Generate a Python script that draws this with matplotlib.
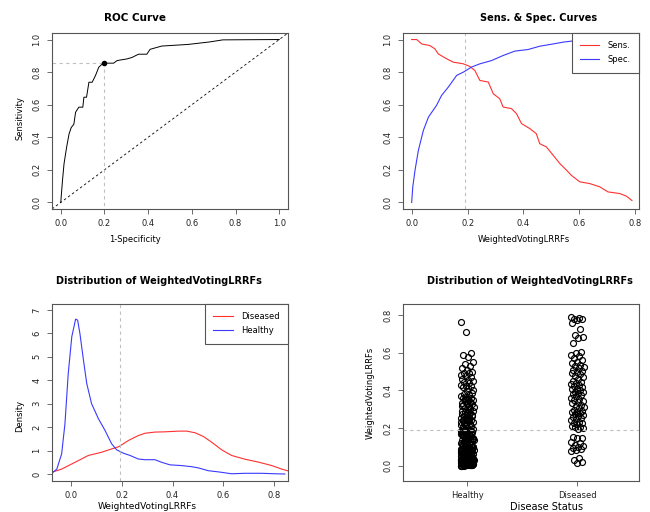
import numpy as np
import matplotlib.pyplot as plt

# ROC curve (1-specificity, sensitivity)
roc_fpr = [0.0, 0.008, 0.015, 0.027, 0.038, 0.048, 0.060, 0.068, 0.083, 0.101, 0.106,
           0.118, 0.129, 0.144, 0.159, 0.174, 0.190, 0.201, 0.242, 0.258, 0.303, 0.326,
           0.356, 0.394, 0.409, 0.462, 0.583, 0.680, 0.742, 1.0]
roc_tpr = [0.0, 0.135, 0.237, 0.340, 0.420, 0.460, 0.480, 0.554, 0.585, 0.585, 0.646,
           0.646, 0.738, 0.738, 0.779, 0.830, 0.850, 0.855, 0.855, 0.871, 0.881, 0.890,
           0.910, 0.910, 0.940, 0.960, 0.970, 0.985, 0.998, 1.0]
best_fpr = 0.2
best_tpr = 0.855
cutoff = 0.192

# sensitivity / specificity by threshold
sens_x = [0.0, 0.018, 0.036, 0.065, 0.083, 0.095, 0.125, 0.149, 0.185, 0.208, 0.226,
          0.244, 0.274, 0.292, 0.315, 0.327, 0.357, 0.375, 0.393, 0.423, 0.446, 0.458,
          0.482, 0.506, 0.530, 0.554, 0.571, 0.601, 0.637, 0.673, 0.702, 0.744, 0.768, 0.788]
sens_y = [1.0, 1.0, 0.973, 0.963, 0.943, 0.912, 0.882, 0.861, 0.851, 0.835, 0.810,
          0.749, 0.739, 0.667, 0.637, 0.586, 0.576, 0.545, 0.484, 0.453, 0.422, 0.361,
          0.341, 0.290, 0.239, 0.198, 0.167, 0.127, 0.116, 0.096, 0.065, 0.055, 0.039, 0.012]
spec_x = [0.0, 0.004, 0.012, 0.024, 0.042, 0.060, 0.089, 0.107, 0.131, 0.161, 0.185,
          0.214, 0.244, 0.286, 0.327, 0.369, 0.417, 0.458, 0.506, 0.542, 0.589, 0.650, 0.788]
spec_y = [0.0, 0.096, 0.198, 0.320, 0.443, 0.524, 0.596, 0.657, 0.708, 0.780, 0.800,
          0.831, 0.851, 0.871, 0.902, 0.929, 0.939, 0.959, 0.973, 0.984, 0.994, 0.998, 1.0]

# density curves
dens_h_x = [-0.076, -0.056, -0.037, -0.024, -0.011, 0.003, 0.018, 0.026, 0.035, 0.049,
            0.062, 0.081, 0.108, 0.134, 0.160, 0.180, 0.206, 0.233, 0.265, 0.292, 0.331,
            0.357, 0.390, 0.436, 0.476, 0.502, 0.541, 0.581, 0.633, 0.686, 0.751, 0.804, 0.843]
dens_h_y = [0.03, 0.21, 0.86, 2.14, 4.29, 5.86, 6.61, 6.57, 6.00, 4.86,
            3.86, 3.00, 2.36, 1.86, 1.29, 1.03, 0.89, 0.79, 0.64, 0.61, 0.61,
            0.50, 0.39, 0.36, 0.31, 0.26, 0.14, 0.09, 0.01, 0.03, 0.03, 0.01, 0.0]
dens_d_x = [-0.076, -0.037, 0.016, 0.068, 0.121, 0.160, 0.189, 0.226, 0.265, 0.292,
            0.331, 0.370, 0.423, 0.456, 0.489, 0.522, 0.554, 0.594, 0.633, 0.686,
            0.738, 0.791, 0.830, 0.863]
dens_d_y = [0.07, 0.21, 0.50, 0.79, 0.93, 1.07, 1.17, 1.43, 1.64, 1.74,
            1.79, 1.80, 1.83, 1.83, 1.76, 1.60, 1.36, 1.03, 0.79, 0.63,
            0.51, 0.36, 0.21, 0.11]

# individual scores
healthy = [0.002, 0.004, 0.001, 0.006, 0.003, 0.009, 0.012, 0.005, 0.008, 0.015,
           0.011, 0.007, 0.018, 0.014, 0.021, 0.010, 0.017, 0.024, 0.013, 0.020,
           0.027, 0.016, 0.023, 0.030, 0.019, 0.026, 0.033, 0.022, 0.029, 0.036,
           0.025, 0.032, 0.039, 0.028, 0.035, 0.042, 0.031, 0.038, 0.045, 0.034,
           0.041, 0.048, 0.037, 0.044, 0.003, 0.006, 0.009, 0.002, 0.013, 0.016,
           0.019, 0.022, 0.025, 0.028, 0.031, 0.034, 0.040, 0.046, 0.049, 0.043,
           0.001, 0.005, 0.008, 0.011, 0.014, 0.017, 0.020, 0.024, 0.027, 0.030,
           0.004, 0.007, 0.010, 0.013, 0.018, 0.021, 0.026, 0.033, 0.038, 0.047,
           0.052, 0.055, 0.058, 0.061, 0.063, 0.066, 0.069, 0.071, 0.074, 0.077,
           0.079, 0.082, 0.085, 0.087, 0.090, 0.093, 0.095, 0.098, 0.057, 0.067,
           0.073, 0.081, 0.088, 0.096, 0.062, 0.053, 0.059, 0.064, 0.070, 0.076,
           0.083, 0.089, 0.094, 0.099, 0.056, 0.068, 0.078, 0.091,
           0.102, 0.106, 0.109, 0.113, 0.117, 0.121, 0.124, 0.128, 0.131, 0.135,
           0.139, 0.142, 0.146, 0.149, 0.153, 0.157, 0.160, 0.164, 0.168, 0.171,
           0.175, 0.179, 0.182, 0.186, 0.111, 0.126, 0.137, 0.151, 0.166, 0.181,
           0.104, 0.115, 0.122, 0.133, 0.144, 0.155, 0.162, 0.173, 0.177, 0.184,
           0.189, 0.119, 0.141, 0.158, 0.170, 0.188,
           0.192, 0.196, 0.201, 0.205, 0.209, 0.214, 0.218, 0.222, 0.227, 0.231,
           0.236, 0.241, 0.245, 0.249, 0.254, 0.259, 0.263, 0.268, 0.272, 0.277,
           0.283, 0.288, 0.293, 0.298, 0.198, 0.211, 0.224, 0.233, 0.243, 0.251,
           0.266, 0.279, 0.291,
           0.302, 0.307, 0.312, 0.316, 0.321, 0.326, 0.331, 0.335, 0.339, 0.344,
           0.348, 0.353, 0.358, 0.362, 0.367, 0.371, 0.377, 0.383, 0.389, 0.396,
           0.318, 0.341, 0.356,
           0.403, 0.411, 0.418, 0.424, 0.426, 0.431, 0.437, 0.444, 0.452, 0.456,
           0.463, 0.470, 0.477, 0.484, 0.491, 0.495, 0.500, 0.509, 0.518, 0.527,
           0.540, 0.553, 0.576, 0.590, 0.600, 0.710, 0.763]
diseased = [0.788, 0.785, 0.781, 0.778, 0.774, 0.756, 0.724, 0.694, 0.682, 0.677, 0.650,
            0.606, 0.598, 0.588, 0.580, 0.571, 0.562, 0.553, 0.544, 0.535, 0.531, 0.522,
            0.518, 0.509, 0.504, 0.500, 0.491, 0.486, 0.477, 0.470, 0.459, 0.452, 0.447,
            0.442, 0.436, 0.429, 0.422, 0.417, 0.410, 0.406, 0.401, 0.394, 0.390, 0.385,
            0.380, 0.376, 0.368, 0.362, 0.355, 0.350, 0.346, 0.341, 0.333, 0.325, 0.318,
            0.312, 0.306, 0.297, 0.293, 0.288, 0.284, 0.279, 0.275, 0.270, 0.265, 0.259,
            0.253, 0.247, 0.241, 0.235, 0.229, 0.226, 0.220, 0.214, 0.208, 0.204, 0.200,
            0.196, 0.155, 0.150, 0.147, 0.129, 0.120, 0.112, 0.106, 0.102, 0.094, 0.088,
            0.085, 0.080, 0.041, 0.032, 0.023, 0.014]
groups = ['Healthy', 'Diseased']

red = '#ff3030'
blue = '#3a3aff'
grey = '#c0c0c0'
box = '#555555'
fs = 6
tfs = 7

plt.rcParams['font.family'] = 'DejaVu Sans'
fig = plt.figure(figsize=(6.5, 5.12), dpi=100)


def r_axes(rect):
    ax = fig.add_axes(rect)
    for s in ax.spines.values():
        s.set_color(box)
        s.set_linewidth(0.8)
    ax.tick_params(length=3.5, width=0.6, color=box, labelsize=fs, pad=4, labelcolor='#222222')
    return ax


def fix_y(ax):
    plt.setp(ax.get_yticklabels(), rotation=90, va='center')


def r_legend(ax):
    leg = ax.legend(loc='upper right', borderaxespad=0, fancybox=False, framealpha=1,
                    edgecolor=box, fontsize=fs, handlelength=2.3, borderpad=1.0,
                    labelspacing=0.6, handletextpad=1.0)
    leg.get_frame().set_linewidth(0.8)


ticks01 = [0.0, 0.2, 0.4, 0.6, 0.8, 1.0]
dash = (0, (3, 3))

# ROC curve
ax1 = r_axes([0.08, 0.5918, 0.363, 0.3437])
ax1.plot(roc_fpr, roc_tpr, color='black', lw=0.7)
ax1.axline((0, 0), (1, 1), color='black', lw=0.6, ls=dash)
ax1.plot([-0.1, best_fpr], [best_tpr, best_tpr], color=grey, lw=0.8, ls=dash)
ax1.plot([best_fpr, best_fpr], [-0.1, best_tpr], color=grey, lw=0.8, ls=dash)
ax1.plot([best_fpr], [best_tpr], 'o', color='black', ms=3)
ax1.set_xlim(-0.04, 1.04)
ax1.set_ylim(-0.04, 1.04)
ax1.set_xticks(ticks01)
ax1.set_yticks(ticks01)
fix_y(ax1)
fig.text(0.2077, 0.965, 'ROC Curve', ha='center', va='center', fontsize=7.5, fontweight='bold')
fig.text(0.2077, 0.533, '1-Specificity', ha='center', va='center', fontsize=fs)
fig.text(0.0308, 0.770, 'Sensitivity', ha='center', va='center', fontsize=fs, rotation=90)

# sens/spec curves
ax2 = r_axes([0.62, 0.5918, 0.363, 0.3437])
ax2.plot(sens_x, sens_y, color=red, lw=0.8, label='Sens.')
ax2.plot(spec_x, spec_y, color=blue, lw=0.8, label='Spec.')
ax2.axvline(cutoff, color=grey, lw=0.8, ls=dash)
ax2.set_xlim(-0.031, 0.813)
ax2.set_ylim(-0.04, 1.04)
ax2.set_xticks([0.0, 0.2, 0.4, 0.6, 0.8])
ax2.set_yticks(ticks01)
fix_y(ax2)
r_legend(ax2)
fig.text(0.828, 0.965, 'Sens. & Spec. Curves', ha='center', va='center', fontsize=tfs, fontweight='bold')
fig.text(0.806, 0.533, 'WeightedVotingLRRFs', ha='center', va='center', fontsize=fs)

# density
ax3 = r_axes([0.08, 0.0605, 0.363, 0.3457])
ax3.plot(dens_d_x, dens_d_y, color=red, lw=0.8, label='Diseased')
ax3.plot(dens_h_x, dens_h_y, color=blue, lw=0.8, label='Healthy')
ax3.axvline(cutoff, color=grey, lw=0.8, ls=dash)
ax3.set_xlim(-0.075, 0.855)
ax3.set_ylim(-0.30, 7.256)
ax3.set_xticks([0.0, 0.2, 0.4, 0.6, 0.8])
ax3.set_yticks(range(8))
fix_y(ax3)
r_legend(ax3)
fig.text(0.245, 0.451, 'Distribution of WeightedVotingLRRFs', ha='center', va='center',
         fontsize=tfs, fontweight='bold')
fig.text(0.227, 0.0117, 'WeightedVotingLRRFs', ha='center', va='center', fontsize=fs + 0.5)
fig.text(0.0308, 0.1875, 'Density', ha='center', va='center', fontsize=fs, rotation=90)

# strip chart
ax4 = r_axes([0.62, 0.0605, 0.363, 0.3457])
for i, vals in enumerate([healthy, diseased]):
    n = len(vals)
    jit = ((np.arange(n) * 0.6180339887) % 1 - 0.5) * 0.12
    ax4.plot(i + 1 + jit, vals, 'o', mfc='none', mec='black', mew=0.85, ms=4.3)
ax4.axhline(cutoff, color=grey, lw=0.8, ls=dash)
ax4.set_xlim(0.418, 2.56)
ax4.set_ylim(-0.08, 0.858)
ax4.set_xticks([1, 2])
ax4.set_xticklabels(groups)
ax4.set_yticks([0.0, 0.2, 0.4, 0.6, 0.8])
fix_y(ax4)
fig.text(0.815, 0.451, 'Distribution of WeightedVotingLRRFs', ha='center', va='center',
         fontsize=tfs, fontweight='bold')
fig.text(0.8415, 0.0098, 'Disease Status', ha='center', va='center', fontsize=7)
fig.text(0.569, 0.232, 'WeightedVotingLRRFs', ha='center', va='center', fontsize=fs, rotation=90)

fig.savefig('out.png', dpi=100)
